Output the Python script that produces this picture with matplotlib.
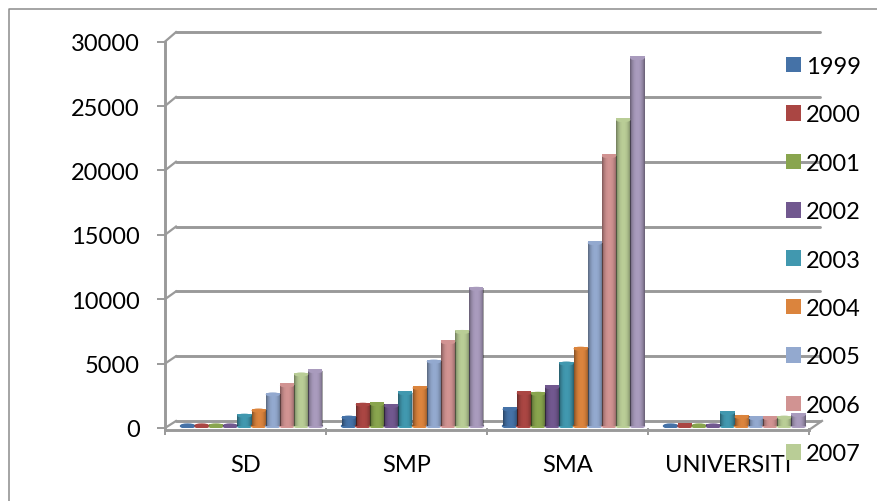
import numpy as np
import matplotlib
matplotlib.use('Agg')
import matplotlib.pyplot as plt
from matplotlib.lines import Line2D
from matplotlib.patches import Ellipse
from matplotlib.transforms import ScaledTranslation

categories = ['SD', 'SMP', 'SMA', 'UNIVERSITI']
years = ['1999', '2000', '2001', '2002', '2003', '2004', '2005', '2006', '2007', '2008']
colors = ['#4572A7', '#AA4643', '#89A54E', '#71588F', '#4198AF',
          '#DB843D', '#93A9CF', '#D19392', '#B9CD96', '#A99BBD']

sd = [60, 100, 150, 100, 950, 1350, 2600, 3300, 4150, 4400]
smp = [800, 1800, 1850, 1700, 2700, 3100, 5150, 6650, 7450, 10800]
sma = [1450, 2700, 2650, 3150, 5000, 6150, 14350, 21100, 23900, 28700]
universiti = [60, 200, 100, 120, 1150, 850, 750, 750, 800, 1000]
values = [sd, smp, sma, universiti]

yticks = [0, 5000, 10000, 15000, 20000, 25000, 30000]

W, H = 877, 502
GRID = '#9a9a9a'
FS = 17
plt.rcParams['font.family'] = ['Lato', 'DejaVu Sans']
plt.rcParams['font.size'] = FS

fig = plt.figure(figsize=(W / 100, H / 100), dpi=100)
# axes box = front of the fake 3D plot, in pixels of the picture
ax = fig.add_axes([165 / W, 1 - 429 / H, (809 - 165) / W, (429 - 42.6) / H])
ax.set_xlim(0, 4)
ax.set_ylim(0, 30000)


def px_shift(dx, dy):
    return ax.transData + ScaledTranslation(dx / 100, -dy / 100, fig.dpi_scale_trans)


# back wall gridlines and the slanted bits joining them to the ticks
for v in yticks:
    back = -7 - 2.5 * v / 30000
    ax.plot([0, 4], [v, v], color=GRID, lw=2.1, transform=px_shift(11, back),
            clip_on=False, zorder=1, solid_capstyle='round')
    ax.plot([0, 11 / 161], [v, v + (-back) / 0.01288], color=GRID, lw=1.6, clip_on=False, zorder=1)

# floor
ax.plot([0, 4], [0, 0], color=GRID, lw=2.1, transform=px_shift(0, 2), clip_on=False, zorder=1)
ax.plot([4, 4 + 13 / 161], [-150, 550], color=GRID, lw=1.6, clip_on=False, zorder=1)
ax.plot([0, 0], [-150, 30000], color=GRID, lw=2.1, clip_on=False, zorder=1)

for s in ax.spines.values():
    s.set_visible(False)
ax.patch.set_visible(False)

ax.set_yticks(yticks)
ax.set_xticks([0, 1, 2, 3, 4])
ax.set_xticklabels([])
ax.set_xticks([0.5, 1.5, 2.5, 3.5], minor=True)
ax.set_xticklabels(categories, minor=True)
ax.tick_params(axis='y', length=6, width=1.4, color=GRID, pad=12, labelsize=FS, labelcolor='black')
ax.tick_params(axis='x', which='major', length=5, width=1.4, color=GRID, pad=0)
ax.tick_params(axis='x', which='minor', length=0, pad=19, labelsize=FS, labelcolor='black')

# cylinders
bw = 14.2 / 161
tr = px_shift(6, -2)
shade = np.zeros((1, 24, 4))
shade[0, :, 3] = np.abs(np.linspace(-1, 1, 24)) ** 2.5 * 0.38
handles = []
for i, year in enumerate(years):
    xs = [c + 0.5 + (i - 4.5) * bw for c in range(4)]
    ys = [values[c][i] for c in range(4)]
    bars = ax.bar(xs, ys, width=bw, color=colors[i], transform=tr, zorder=3, label=year)
    handles.append(bars[0])
    for x, y in zip(xs, ys):
        top = max(y - 150, 0)
        ax.add_patch(Ellipse((x, 0), bw, 300, color=colors[i], transform=tr, zorder=3))
        ax.imshow(shade, extent=[x - bw / 2, x + bw / 2, 0, max(top, 1)], aspect='auto',
                  transform=tr, zorder=3.1, interpolation='bilinear')
        ax.add_patch(Ellipse((x, top), bw, 320, facecolor=colors[i], edgecolor='none',
                             transform=tr, zorder=3.2))
ax.set_xlim(0, 4)
ax.set_ylim(0, 30000)

# 2008 has no legend entry, it fell off the bottom of the picture
fig.legend(handles=handles[:9], labels=years[:9], loc='upper left',
           bbox_to_anchor=(786 / W, 1 - 57 / H), frameon=False, fontsize=FS,
           handlelength=0.635, handleheight=0.635, handletextpad=0.2,
           labelspacing=1.16, borderpad=0, borderaxespad=0)

# outer frame of the chart, no right or bottom edge in the crop
fig.add_artist(Line2D([9 / W, 9 / W, 1], [0, 1 - 10 / H, 1 - 10 / H], color='#8c8c8c', lw=1.1))

fig.savefig('out.png', dpi=100)
